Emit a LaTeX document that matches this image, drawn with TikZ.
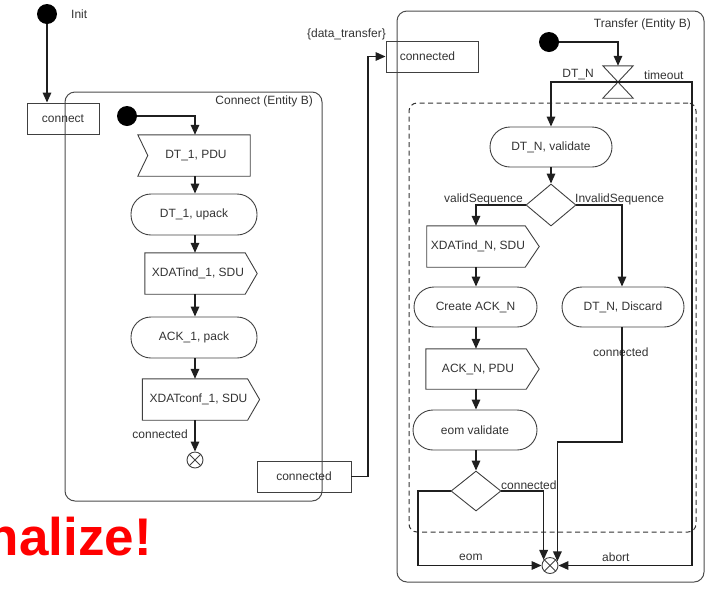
\documentclass[tikz,border=0pt]{standalone}
\usepackage{fontspec}
\setmainfont{Liberation Sans}
\usetikzlibrary{arrows.meta,shapes.geometric,calc}
\begin{document}
\begin{tikzpicture}[x=1pt,y=-1pt,
  txt/.style={font=\fontsize{12}{14}\selectfont, text=black!80, inner sep=0pt},
  shp/.style={draw=black!75, line width=0.9pt},
  box/.style={shp, txt, inner sep=0pt},
  stad/.style={box, rounded corners=20pt, minimum height=40pt},
  bodyn/.style={txt, minimum height=41pt},
  arr/.style={draw=black!88, line width=1.6pt, -{Triangle[length=10pt,width=8.5pt]}},
  dot/.style={circle, fill=black, minimum size=20pt, inner sep=0pt},
  term/.style={circle, shp, minimum size=16pt, inner sep=0pt},
  dec/.style={diamond, shp, minimum width=50pt, minimum height=42pt, inner sep=0pt},
  cont/.style={draw=black!70, line width=1pt, rounded corners=10pt, inner sep=0pt},
  redtxt/.style={text=red, inner sep=0pt, font=\fontsize{53}{58}\selectfont\bfseries}
]
\useasboundingbox (0,0) rectangle (712,590);

% containers
\node[cont, minimum width=257pt, minimum height=409pt] (connst) at (193.5,296.5) {};
\node[cont, minimum width=307pt, minimum height=571pt] (transst) at (550.5,296.5) {};
\node[cont, dashed, dash pattern=on 5pt off 3.5pt, draw=black!80, rounded corners=8pt,
      minimum width=287pt, minimum height=429pt] (inner) at (552.5,317.5) {};

\node[txt, anchor=east] at (313,101) {Connect (Entity B)};
\node[txt, anchor=east] at (691,24) {Transfer (Entity B)};

% ---------- left part ----------
\node[dot] (init) at (47,14) {};
\node[txt, anchor=west] at (71,14) {Init};
\node[box, minimum width=72pt, minimum height=31pt] (connect) at (63,118.5) {connect};

\node[dot] (dot1) at (127,116) {};
\coordinate (colL) at (195,0);

\node[bodyn, minimum width=112pt] (pdu) at (194,155.5) {\hspace*{4pt}DT\_1, PDU};
\draw[shp] (pdu.north west) -- (pdu.north east) -- (pdu.south east) -- (pdu.south west)
  -- ([xshift=10pt]pdu.west) -- cycle;

\node[stad, minimum width=126pt, minimum height=41pt] (upack) at (194,214.5) {DT\_1, upack};

\node[bodyn, minimum width=100pt] (xind1) at (195,273.5) {\hspace*{6pt}XDATind\_1, SDU};
\draw[shp] (xind1.north west) -- (xind1.north east) -- ([xshift=12pt]xind1.east)
  -- (xind1.south east) -- (xind1.south west) -- cycle;

\node[stad, minimum width=126pt, minimum height=41pt] (ack1) at (194,337.5) {ACK\_1, pack};

\node[bodyn, minimum width=100pt] (xconf1) at (195,399.5) {\hspace*{7pt}XDATconf\_1, SDU};
\draw[shp] (xconf1.north west) -- (xconf1.north east) -- ([xshift=12pt]xconf1.east)
  -- (xconf1.south east) -- (xconf1.south west) -- cycle;

\node[txt, anchor=east] at (188,434) {connected};
\node[term] (term1) at (195,460) {};
\draw[shp] (term1.north west) -- (term1.south east) (term1.north east) -- (term1.south west);

\node[box, minimum width=94pt, minimum height=31pt] (conn3) at (304,476.5) {connected};
\coordinate (cx) at (368,0);

\node[box, minimum width=92pt, minimum height=31pt] (conn2) at (432,56.5) {};
\node[txt, anchor=west] at ([xshift=14pt]conn2.west) {connected};
\node[txt, anchor=east] at (386,34) {\{data\_transfer\}};

\draw[arr] (init.south) -- (init.south |- connect.north);
\draw[arr] (dot1) -| (pdu.north -| colL);
\draw[arr] (pdu.south -| colL) -- (upack.north -| colL);
\draw[arr] (upack.south -| colL) -- (xind1.north -| colL);
\draw[arr] (xind1.south -| colL) -- (ack1.north -| colL);
\draw[arr] (ack1.south -| colL) -- (xconf1.north -| colL);
\draw[arr] (xconf1.south -| colL) -- (term1.north);
\draw[arr] (conn3.east) -- (conn3.east -| cx) |- (conn2.west);

% ---------- right part ----------
\node[dot] (dot2) at (549,42) {};
\node[inner sep=0pt, minimum width=30pt, minimum height=32pt] (hg) at (618,82) {};
\draw[shp] (hg.north west) -- (hg.north east) -- (hg.south west) -- (hg.south east) -- cycle;
\node[txt, anchor=east] at (594,75) {DT\_N};
\node[txt, anchor=west] at (644,75) {timeout};

\node[stad, minimum width=122pt] (validate) at (551,147) {DT\_N, validate};
\node[dec] (d1) at (551,205) {};
\node[txt, anchor=east] at (523,199) {validSequence};
\node[txt, anchor=west] at (575,199) {InvalidSequence};

\coordinate (colA) at (476,0);
\coordinate (colB) at (622,0);

\node[bodyn, minimum width=98pt] (xindN) at (476,246.5) {\hspace*{4pt}XDATind\_N, SDU};
\draw[shp] (xindN.north west) -- (xindN.north east) -- ([xshift=14pt]xindN.east)
  -- (xindN.south east) -- (xindN.south west) -- cycle;

\node[stad, minimum width=123pt] (createack) at (475.5,307) {Create ACK\_N};
\node[stad, minimum width=122pt] (discard) at (623,307) {DT\_N, Discard};

\node[bodyn, minimum width=100pt, minimum height=40pt] (ackpdu) at (476,369) {\hspace*{4pt}ACK\_N, PDU};
\draw[shp] (ackpdu.north west) -- (ackpdu.north east) -- ([xshift=13pt]ackpdu.east)
  -- (ackpdu.south east) -- (ackpdu.south west) -- cycle;

\node[stad, minimum width=124pt] (eomv) at (475,430) {eom validate};
\node[dec, minimum height=40pt] (d2) at (476,491) {};

\node[txt, anchor=west] at (593,352) {connected};
\node[txt, anchor=west] at (501,485) {connected};
\node[txt, anchor=west] at (459,557) {eom};
\node[txt, anchor=west] at (602,557) {abort};

\node[term] (term2) at (550,565.5) {};
\draw[shp] (term2.north west) -- (term2.south east) (term2.north east) -- (term2.south west);

\coordinate (ax) at (692,565.5);
\coordinate (ex) at (418,0);
\coordinate (mid) at (557,442);

\draw[arr] (dot2) -| (hg.north);
\draw[arr] (hg.center) -| (validate.north);
\draw[arr] (hg.center) -| (ax) -- (term2.east);
\draw[arr] (validate.south) -- (d1.north);
\draw[arr] (d1.west) -| (xindN.north -| colA);
\draw[arr] (d1.east) -| (discard.north -| colB);
\draw[arr] (xindN.south -| colA) -- (createack.north -| colA);
\draw[arr] (createack.south -| colA) -- (ackpdu.north -| colA);
\draw[arr] (ackpdu.south -| colA) -- (eomv.north -| colA);
\draw[arr] (eomv.south -| colA) -- (d2.north);
\draw[arr] (d2.west) -- (d2.west -| ex) |- (term2.west);
\draw[arr] (d2.east) -| (term2.139);
\draw[arr] (discard.south -| colB) |- (mid) -| (term2.29);

% red text (cut off at the left edge, as in the reference)
\node[redtxt, anchor=base east] (red) at (152,555) {nalize!};
\end{tikzpicture}
\end{document}
